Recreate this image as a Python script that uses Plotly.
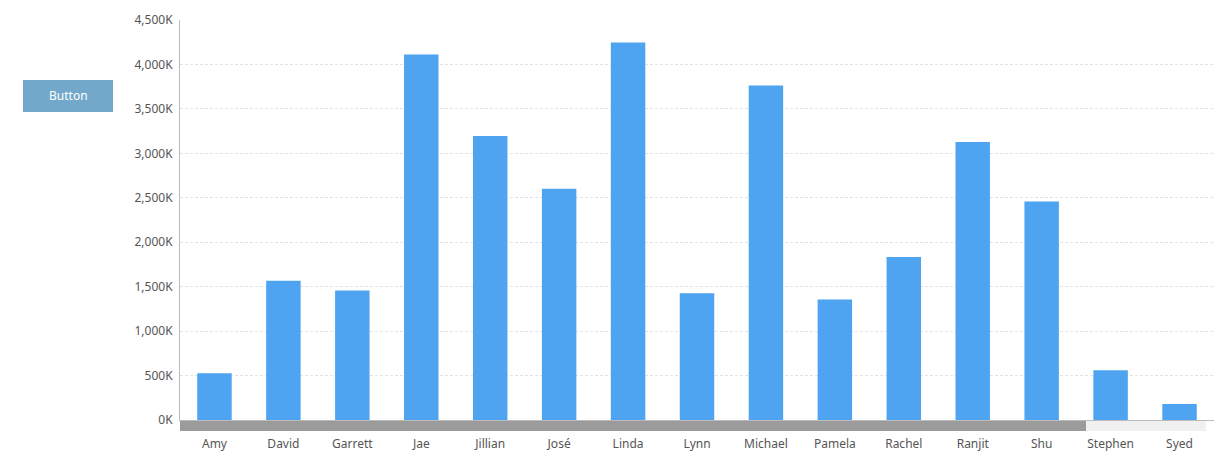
import plotly.graph_objects as go

names = ["Amy", "David", "Garrett", "Jae", "Jillian", "José", "Linda", "Lynn",
         "Michael", "Pamela", "Rachel", "Ranjit", "Shu", "Stephen", "Syed"]
values_k = [527, 1567, 1456, 4112, 3195, 2602, 4248, 1426,
            3763, 1357, 1835, 3127, 2459, 560, 180]
tick_vals = [0, 500, 1000, 1500, 2000, 2500, 3000, 3500, 4000, 4500]
tick_text = ["0K", "500K", "1,000K", "1,500K", "2,000K", "2,500K",
             "3,000K", "3,500K", "4,000K", "4,500K"]

OFF = 8  # page body margin
W, H = 1222, 468
ML, MR, MT, MB = 172, 16, 12, 56
font_family = "Noto Sans, Open Sans, sans-serif"

fig = go.Figure(go.Bar(x=names, y=values_k, marker_color="#4EA4F0",
                       marker_line_width=0, hoverinfo="x+y"))

fig.update_layout(
    width=W, height=H,
    margin=dict(l=ML, r=MR, t=MT, b=MB, autoexpand=False),
    plot_bgcolor="white", paper_bgcolor="white",
    bargap=0.5, showlegend=False,
    font=dict(family=font_family, size=12, color="#555555"),
)
fig.update_xaxes(
    automargin=False,
    showline=True, linecolor="#BBBBBB", linewidth=1,
    ticks="outside", ticklen=13, tickcolor="rgba(0,0,0,0)",
    tickfont=dict(size=12, color="#555555"),
    showgrid=False, fixedrange=True,
)
fig.update_yaxes(
    automargin=False,
    range=[0, 4500], tickvals=tick_vals, ticktext=tick_text,
    showline=True, linecolor="#BBBBBB", linewidth=1,
    showgrid=True, gridcolor="#E3E3E3", griddash="3px,2px", gridwidth=1,
    zeroline=False, ticks="outside", ticklen=4, tickcolor="rgba(0,0,0,0)",
    tickfont=dict(size=12, color="#555555"), fixedrange=True,
)

pw = W - ML - MR
ph = H - MT - MB
def px_x(p):
    return (p - OFF - ML) / pw
def px_y(p):
    return 1 - (p - OFF - MT) / ph

# scrollbar track + thumb under the x axis
fig.add_shape(type="rect", xref="paper", yref="paper",
              x0=px_x(180), x1=px_x(1206), y0=px_y(431), y1=px_y(421),
              fillcolor="#F0F0F0", line_width=0, layer="above")
fig.add_shape(type="rect", xref="paper", yref="paper",
              x0=px_x(180), x1=px_x(1086), y0=px_y(431), y1=px_y(421),
              fillcolor="#9B9B9B", line_width=0, layer="above")

# button
fig.add_shape(type="rect", xref="paper", yref="paper",
              x0=px_x(23), x1=px_x(113), y0=px_y(112), y1=px_y(80),
              fillcolor="#72A9CA", line_width=0)
fig.add_annotation(xref="paper", yref="paper", x=px_x(68), y=px_y(96),
                   text="Button", showarrow=False,
                   font=dict(size=12, color="white", family=font_family),
                   xanchor="center", yanchor="middle")

fig.write_html("out.html")
